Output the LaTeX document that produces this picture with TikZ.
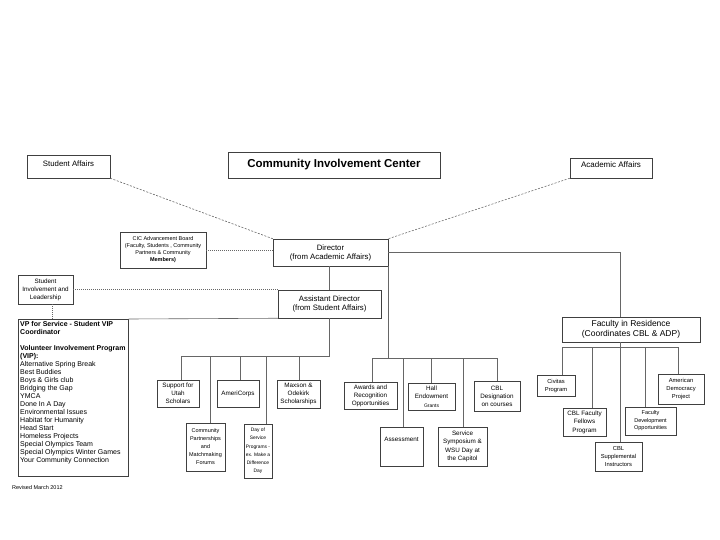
\documentclass[tikz,border=0pt]{standalone}
\usepackage{fontspec}
\setmainfont{Liberation Sans}
\newcommand{\fsz}[2]{\fontsize{#1}{#2}\selectfont}
\begin{document}
\begin{tikzpicture}[x=1pt,y=-1pt,
  box/.style={draw=black!75, line width=0.5pt, align=center, inner sep=1pt, font=\fsz{5.5}{8}},
  conn/.style={draw=black!60, line width=0.6pt},
  dashconn/.style={conn, dash pattern=on 2pt off 1.5pt},
  dotconn/.style={conn, dash pattern=on 0.8pt off 1.2pt}]
\useasboundingbox (0,0) rectangle (720,540);
%top level
\node[box, minimum width=83pt, minimum height=23pt, text depth=6pt, font=\fsz{7.8}{9}] (sa) at (68.5,166.5) {Student Affairs};
\node[box, minimum width=212pt, minimum height=26pt, font=\fsz{11.5}{13}\bfseries] (cic) at (334,165) {Community Involvement Center};
\node[box, minimum width=82pt, minimum height=20pt, text depth=6pt, font=\fsz{8}{9}] (aa) at (611,168) {Academic Affairs};
\node[box, minimum width=86pt, minimum height=36pt, font=\fsz{5.5}{7}] (board) at (163,250) {CIC Advancement Board\\(Faculty, Students , Community\\Partners \& Community\\\textbf{Members)}};
\node[box, minimum width=115pt, minimum height=27pt, font=\fsz{7.8}{9}] (dir) at (330.5,252.5) {Director\\(from Academic Affairs)};
\node[box, minimum width=55pt, minimum height=29pt, font=\fsz{6.3}{8}] (sil) at (45.5,289.5) {Student\\Involvement and\\Leadership};
\node[box, minimum width=103pt, minimum height=28pt, font=\fsz{7.8}{9}] (asst) at (329.5,304) {Assistant Director\\(from Student Affairs)};
%volunteer programs
\node[box, minimum width=110pt, minimum height=157pt, anchor=north west] (vp) at (18,319) {};
\node[anchor=north west, align=left, inner sep=2pt, font=\fsz{7}{8}] (vptext) at (vp.north west) {\textbf{VP for Service - Student VIP}\\
\textbf{Coordinator}\\
\mbox{}\\
\textbf{Volunteer Involvement Program}\\
\textbf{(VIP):}\\
Alternative Spring Break\\
Best Buddies\\
Boys \& Girls club\\
Bridging the Gap\\
YMCA\\
Done In A Day\\
Environmental Issues\\
Habitat for Humanity\\
Head Start\\
Homeless Projects\\
Special Olympics Team\\
Special Olympics Winter Games\\
Your Community Connection};
\node[anchor=west, inner sep=0pt, font=\fsz{5.5}{6}] (rev) at (12,488) {Revised March 2012};
%assistant director programs
\node[box, minimum width=42pt, minimum height=27pt, font=\fsz{6.3}{8}] (sus) at (178,393.5) {Support for\\Utah\\Scholars};
\node[box, minimum width=42pt, minimum height=27pt, font=\fsz{6.3}{8}] (amc) at (238,393.5) {AmeriCorps};
\node[box, minimum width=43pt, minimum height=28pt, font=\fsz{6.3}{8}] (maxson) at (298.5,394) {Maxson \&\\Odekirk\\Scholarships};
\node[box, minimum width=39pt, minimum height=48pt, font=\fsz{5.5}{8}] (cpmf) at (205.5,447) {Community\\Partnerships\\and\\Matchmaking\\Forums};
\node[box, minimum width=28pt, minimum height=54pt, font=\fsz{4.9}{8.2}] (dos) at (258,451) {Day of\\Service\\Programs -\\ex. Make a\\Difference\\Day};
%director programs
\node[box, minimum width=53pt, minimum height=27pt, font=\fsz{6.3}{8}] (awards) at (370.5,395.5) {Awards and\\Recognition\\Opportunities};
\node[box, minimum width=47pt, minimum height=27pt, font=\fsz{6.3}{8.5}] (hall) at (431.5,396.5) {Hall\\Endowment\\{\fsz{5}{6}Grants}};
\node[box, minimum width=46pt, minimum height=30pt, font=\fsz{6.3}{8}] (cbld) at (497,396) {CBL\\Designation\\on courses};
\node[box, minimum width=43pt, minimum height=39pt, text depth=14pt, font=\fsz{6.3}{8}] (assess) at (401.5,446.5) {Assessment};
\node[box, minimum width=49pt, minimum height=39pt, font=\fsz{6.3}{8.3}] (sss) at (462.5,446.5) {Service\\Symposium \&\\WSU Day at\\the Capitol};
%faculty in residence
\node[box, minimum width=138pt, minimum height=25pt, font=\fsz{8.5}{9.5}] (fir) at (631,329.5) {Faculty in Residence\\(Coordinates CBL \& ADP)};
\node[box, minimum width=38pt, minimum height=21pt, font=\fsz{5.8}{8}] (civ) at (556,385.5) {Civitas\\Program};
\node[box, minimum width=46pt, minimum height=30pt, font=\fsz{5.8}{8}] (adp) at (681,389) {American\\Democracy\\Project};
\node[box, minimum width=43pt, minimum height=28pt, font=\fsz{6.3}{8.5}] (fellows) at (584.5,422) {CBL Faculty\\Fellows\\Program};
\node[box, minimum width=51pt, minimum height=28pt, font=\fsz{5.5}{7.5}] (fdo) at (650.5,421) {Faculty\\Development\\Opportunities};
\node[box, minimum width=47pt, minimum height=29pt, font=\fsz{5.8}{8.5}] (csi) at (618.5,456.5) {CBL\\Supplemental\\Instructors};
%bars
\coordinate (firx) at (620,347);
\coordinate (dbar) at (0,358);
\coordinate (abar) at (0,356);
%connectors
\draw[dashconn] (sa.south east) -- (dir.north west);
\draw[dashconn] (aa.south west) -- (dir.north east);
\draw[dotconn] (board.east) -- (board.east -| dir.west);
\draw[dotconn] (sil.east) -- (sil.east -| asst.west);
\draw[dotconn] (52,0 |- sil.south) -- (52,0 |- vp.north);
\draw[conn] (asst.north) -- (asst.north |- dir.south);
\draw[conn] (asst.south west) -- (vp.north east);
\draw[conn] (dir.east) -| (firx |- fir.north);
\draw[conn] (firx |- fir.south) -- (firx |- csi.north);
\draw[conn] (562,347) -- (678,347);
\foreach \n/\x in {civ/562, fellows/592, fdo/645, adp/678}
  \draw[conn] (\x,347) -- (\x,0 |- \n.north);
\draw[conn] (dir.south east) -- (dir.south east |- dbar);
\draw[conn] (372,358) -- (497,358);
\foreach \n/\x in {awards/372, assess/403, hall/431, sss/463, cbld/497}
  \draw[conn] (\x,358) -- (\x,0 |- \n.north);
\draw[conn] (asst.south) -- (asst.south |- abar);
\draw[conn] (181,356) -- (asst.south |- abar);
\foreach \n/\x in {sus/181, cpmf/210, amc/240, dos/266, maxson/299}
  \draw[conn] (\x,356) -- (\x,0 |- \n.north);
\end{tikzpicture}
\end{document}
